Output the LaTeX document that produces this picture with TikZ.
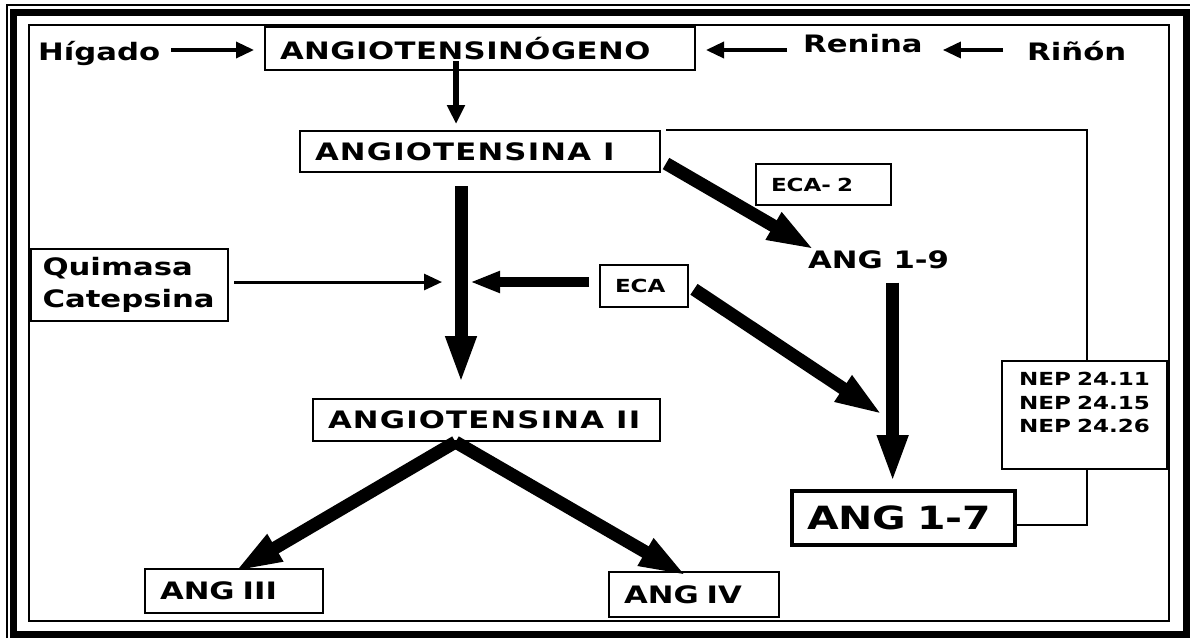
\documentclass[tikz,border=0pt]{standalone}
\usepackage{fontspec}
\setmainfont{DejaVu Sans}[FakeStretch=1.28]
\usetikzlibrary{arrows.meta}
\newcommand\txtbig{\bfseries\fontsize{24}{32}\selectfont}
\newcommand\txtsmall{\bfseries\fontsize{18}{23.5}\selectfont}
\newcommand\txthuge{\bfseries\fontsize{32}{36}\selectfont}

\begin{document}
\begin{tikzpicture}[x=1pt,y=-1pt,line join=miter]
            \tikzset{box/.style={draw,line width=2pt,inner xsep=15pt,inner ysep=0pt,align=left,font=\txtbig},
                     word/.style={inner sep=0pt,font=\txtbig,anchor=base west},
                     thinarr/.style={line width=3.5pt,-{Triangle[width=16pt,length=18pt]}},
                     midarr/.style={line width=6pt,-{Triangle[width=17pt,length=19pt]}},
                     ecaarr/.style={line width=10pt,-{Triangle[width=20pt,length=30pt]}},
                     fatarr/.style={line width=13pt,-{Triangle[width=28pt,length=48pt]}},
                     link/.style={line width=2pt}}
            \useasboundingbox (0,0) rectangle (1190,638);
            % frame
            \draw[line width=2pt] (7,638) -- (7,5) -- (1190,5);
            \draw[line width=7pt] (13.5,12) rectangle (1186,634.5);
            \draw[line width=2pt] (29,25) rectangle (1169,621);
            % top row
            \node[word] (higado) at (38,60) {Hígado};
            \node[box,text width=400pt,minimum height=43pt] (ango) at (480,48.5) {\addfontfeature{LetterSpace=2}ANGIOTENSINÓGENO};
            \node[word] (renina) at (803,52) {Renina};
            \node[word] (rinon) at (1027,60) {Riñón};
            % middle
            \node[box,text width=330pt,minimum height=41pt] (angI) at (480,151.5) {\addfontfeature{LetterSpace=5}ANGIOTENSINA\ \,I};
            \node[box,font=\txtsmall,text width=105pt,minimum height=41pt] (eca2) at (823.5,184.5) {ECA- 2};
            \node[word] (ang19) at (808,268) {ANG 1-9};
            \node[box,inner xsep=11.5pt,text width=174pt,minimum height=72pt] (quim) at (129.5,285) {Quimasa\\Catepsina};
            \node[box,font=\txtsmall,text width=58pt,minimum height=42pt] (eca) at (644,286) {ECA};
            \node[box,font=\txtsmall,align=center,inner ysep=11.5pt,text width=135pt,text depth=72pt,anchor=north] (nep) at (1084.5,360) {NEP 24.11\\NEP 24.15\\NEP 24.26};
            % bottom
            \node[box,text width=317pt,minimum height=42pt] (angII) at (486.5,420) {\addfontfeature{LetterSpace=5}ANGIOTENSINA\ \,II};
            \node[box,line width=4pt,font=\txthuge,text width=193pt,minimum height=54pt] (ang17) at (903.5,518) {ANG 1-7};
            \node[box,text width=148pt,minimum height=44pt] (angIII) at (234,591) {ANG III};
            \node[box,text width=140pt,minimum height=45pt] (angIV) at (694,594.5) {ANG IV};
            \coordinate (mid) at (461,282);
            \coordinate (j17) at (883,415);
            % arrows
            \draw[thinarr,shorten <=11pt,shorten >=10pt] (higado.east |- 0,50) -- (ango.west |- 0,50);
            \draw[thinarr,shorten <=16pt,shorten >=10pt] (renina.west |- 0,50) -- (ango.east |- 0,50);
            \draw[thinarr,shorten <=24pt,shorten >=20pt] (rinon.west |- 0,50) -- (renina.east |- 0,50);
            \draw[midarr,shorten <=-10pt,shorten >=6pt] ([xshift=-24pt]ango.south) -- ([xshift=-24pt]angI.north);
            \draw[fatarr,shorten <=13pt,shorten >=14pt] (angI.south -| mid) -- (angII.north -| mid);
            \draw[thinarr,line width=3pt,shorten <=5pt,shorten >=19pt] (quim.east |- mid) -- (mid);
            \draw[ecaarr,shorten <=10pt,shorten >=9pt] (eca.west |- mid) -- (mid);
            \draw[fatarr] ([shift={(5,12)}]angI.east) -- ([xshift=7pt]ang19.north west);
            \draw[fatarr,shorten <=14pt,shorten >=6pt] ([xshift=14pt]ang19.south) -- ([xshift=14pt]ang19.south |- ang17.north);
            \draw[fatarr,shorten <=6pt] (eca.east) -- (j17);
            \draw[fatarr] ([xshift=-31pt]angII.south) -- ([shift={(0,4)}]angIII.north);
            \draw[fatarr] ([xshift=-31pt]angII.south) -- ([shift={(-7,5)}]angIV.north);
            % NEP links
            \draw[link] ([xshift=5pt]angI.north east) -| ([xshift=2.5pt]nep.north);
            \draw[link] ([xshift=2.5pt]nep.south) |- ([yshift=-7pt]ang17.east);
        \end{tikzpicture}
\end{document}
